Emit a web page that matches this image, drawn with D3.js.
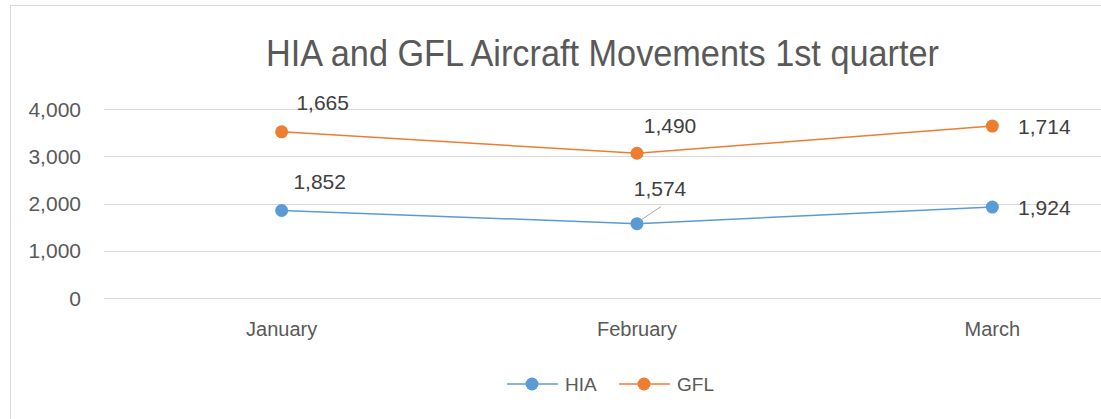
<!DOCTYPE html>
<html><head><meta charset="utf-8">
<script src="https://cdn.jsdelivr.net/npm/d3@7"></script>
<style>html,body{margin:0;padding:0;background:#fff;}svg{display:block;}</style>
</head><body>
<svg id="chart" width="1101" height="419"></svg>
<script>
const categories = ["January", "February", "March"];
const seriesNames = ["HIA", "GFL"];
const hiaValues = [1852, 1574, 1924];
const gflValues = [1665, 1490, 1714];
const yTicks = [0, 1000, 2000, 3000, 4000];
const title = "HIA and GFL Aircraft Movements 1st quarter";

const colors = {HIA: "#5B9BD5", GFL: "#ED7D31"};
// label offsets from point (layout only)
const labelOffsets = {
  HIA: [[38, -29], [23, -35], [52, 0]],
  GFL: [[41, -29], [33, -28], [52, 0]]
};

const svg = d3.select("#chart");
svg.append("rect").attr("x", 10.5).attr("y", 5.5).attr("width", 1200).attr("height", 500)
  .attr("fill", "#fff").attr("stroke", "#D9D9D9").attr("stroke-width", 1);

const plotL = 104, plotR = 1170, plotT = 109, plotB = 298;
const x = d3.scaleBand().domain(categories).range([plotL, plotR]).padding(0);
const cx = d => x(d) + x.bandwidth() / 2;
const y = d3.scaleLinear().domain([0, 4000]).range([plotB, plotT]);

// title
svg.append("text").attr("x", 266).attr("y", 66).text(title)
  .attr("font-family", "Liberation Sans, Arial, sans-serif").attr("font-size", 36)
  .attr("fill", "#595959").attr("textLength", 673).attr("lengthAdjust", "spacingAndGlyphs");

// gridlines
svg.append("g").selectAll("line").data(yTicks).join("line")
  .attr("x1", plotL).attr("x2", plotR)
  .attr("y1", d => Math.round(y(d)) + 0.5).attr("y2", d => Math.round(y(d)) + 0.5)
  .attr("stroke", "#D9D9D9").attr("stroke-width", 1);

// y labels
svg.append("g").selectAll("text").data(yTicks).join("text")
  .attr("x", 81).attr("y", d => y(d)).attr("dy", "0.36em").attr("text-anchor", "end")
  .attr("font-family", "Liberation Sans, Arial, sans-serif").attr("font-size", 21)
  .attr("fill", "#595959").text(d => d3.format(",")(d));

// x labels
svg.append("g").selectAll("text").data(categories).join("text")
  .attr("x", d => cx(d)).attr("y", 329).attr("dy", "0.36em").attr("text-anchor", "middle")
  .attr("font-family", "Liberation Sans, Arial, sans-serif").attr("font-size", 20)
  .attr("fill", "#595959").text(d => d);

// stacked data
const table = categories.map((c, i) => ({cat: c, HIA: hiaValues[i], GFL: gflValues[i]}));
const stacked = d3.stack().keys(seriesNames)(table);

const line = d3.line().x(d => cx(d.data.cat)).y(d => y(d[1]));

stacked.forEach(s => {
  const name = s.key;
  const g = svg.append("g");
  g.append("path").datum(s).attr("d", line).attr("fill", "none")
    .attr("stroke", colors[name]).attr("stroke-width", 1.5);
  g.selectAll("circle").data(s).join("circle")
    .attr("cx", d => cx(d.data.cat)).attr("cy", d => y(d[1])).attr("r", 6.5)
    .attr("fill", colors[name]);
  // leader line for labels far from point
  s.forEach((d, i) => {
    const [dx, dy] = labelOffsets[name][i];
    const px = cx(d.data.cat), py = y(d[1]);
    if (name === "HIA" && i === 1) {
      g.append("line").attr("x1", px + 3).attr("y1", py - 3).attr("x2", px + 24).attr("y2", py - 17)
        .attr("stroke", "#A6A6A6").attr("stroke-width", 1);
    }
    g.append("text").attr("x", px + dx).attr("y", py + dy).attr("dy", "0.36em")
      .attr("text-anchor", "middle")
      .attr("font-family", "Liberation Sans, Arial, sans-serif").attr("font-size", 21)
      .attr("fill", "#404040").text(d3.format(",")(d.data[name]));
  });
});

// legend
const legendX = [507, 619];
const ly = 384;
seriesNames.forEach((name, i) => {
  const lx = legendX[i];
  svg.append("line").attr("x1", lx).attr("x2", lx + 51).attr("y1", ly).attr("y2", ly)
    .attr("stroke", colors[name]).attr("stroke-width", 1.5);
  svg.append("circle").attr("cx", lx + 25).attr("cy", ly).attr("r", 6.5).attr("fill", colors[name]);
  svg.append("text").attr("x", lx + 58).attr("y", ly).attr("dy", "0.36em")
    .attr("font-family", "Liberation Sans, Arial, sans-serif").attr("font-size", 19)
    .attr("fill", "#595959").text(name);
});
</script>
</body></html>
